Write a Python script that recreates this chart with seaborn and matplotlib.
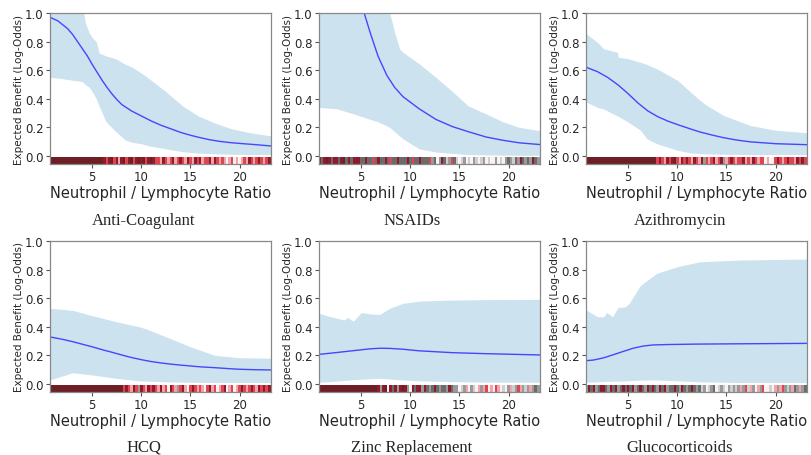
import numpy as np
import pandas as pd
import matplotlib
matplotlib.use("Agg")
import matplotlib.pyplot as plt
import seaborn as sns

sns.set_style("ticks")
plt.rcParams['font.family'] = ['DejaVu Sans']

titles = ["Anti-Coagulant", "NSAIDs", "Azithromycin", "HCQ", "Zinc Replacement", "Glucocorticoids"]

# ---- Mean curves ----
xm_anticoag = [0.7, 1.5, 2.5, 3.0, 3.5, 4, 4.5, 5, 5.5, 6, 6.5, 7, 7.5, 8, 9, 10, 11, 12, 13, 14, 15, 16, 17, 18, 19, 20, 21.5, 23.2]
mean_anticoag = [0.97, 0.945, 0.89, 0.85, 0.80, 0.75, 0.70, 0.64, 0.585, 0.53, 0.48, 0.435, 0.395, 0.36, 0.315, 0.28, 0.245, 0.215, 0.19, 0.165, 0.145, 0.128, 0.113, 0.102, 0.094, 0.088, 0.08, 0.07]

xm_nsaid = [0.7, 2.5, 4.2, 5.3, 5.9, 6.7, 7.6, 8.4, 9.25, 10.9, 12.6, 14.3, 15.9, 17.7, 19.4, 21.1, 23.2]
mean_nsaid = [1.9, 1.5, 1.15, 1.0, 0.865, 0.70, 0.565, 0.48, 0.415, 0.33, 0.256, 0.205, 0.17, 0.133, 0.11, 0.092, 0.08]

xm_azithro = [0.74, 1.86, 2.9, 4, 5, 6, 7, 8, 9, 10, 11.3, 12.3, 13.5, 14.7, 16, 17.4, 20, 23.2]
mean_azithro = [0.62, 0.59, 0.55, 0.495, 0.435, 0.37, 0.315, 0.275, 0.245, 0.22, 0.19, 0.168, 0.147, 0.128, 0.112, 0.099, 0.086, 0.079]

xm_hcq = [0.64, 2, 3, 4, 5, 6, 7, 8, 9, 10, 11, 12, 13, 14, 15, 16, 17.5, 19, 20, 21.5, 23.2]
mean_hcq = [0.33, 0.312, 0.296, 0.278, 0.26, 0.24, 0.222, 0.203, 0.185, 0.17, 0.157, 0.147, 0.139, 0.132, 0.126, 0.12, 0.114, 0.107, 0.103, 0.1, 0.098]

xm_zinc = [0.7, 2.5, 4.2, 5.9, 6.9, 7.9, 9.25, 10.9, 14.3, 17.7, 23.2]
mean_zinc = [0.207, 0.22, 0.233, 0.246, 0.25, 0.249, 0.243, 0.232, 0.219, 0.212, 0.203]

xm_gluco = [0.74, 1.5, 2.5, 3.5, 4.5, 5.5, 6.5, 7.5, 9, 12, 16, 23.2]
mean_gluco = [0.163, 0.168, 0.183, 0.205, 0.228, 0.25, 0.265, 0.273, 0.276, 0.279, 0.281, 0.284]

# ---- Uncertainty bands (x grid, lower, upper) ----
xb_anticoag = [0.7, 1.5, 2.5, 3.5, 4.0, 4.3, 4.7, 5.1, 5.4, 5.7, 6.4, 7.4, 8.4, 9.1, 10, 10.8, 12.5, 14.2, 15.8, 17.5, 19.2, 20.9, 23.2]
lo_anticoag = [0.55, 0.545, 0.535, 0.525, 0.52, 0.50, 0.48, 0.44, 0.40, 0.35, 0.24, 0.17, 0.11, 0.095, 0.086, 0.07, 0.05, 0.03, 0.02, 0.015, 0.012, 0.01, 0.01]
hi_anticoag = [1.25, 1.2, 1.15, 1.1, 1.05, 0.93, 0.86, 0.82, 0.80, 0.72, 0.70, 0.68, 0.64, 0.62, 0.58, 0.54, 0.45, 0.35, 0.28, 0.23, 0.19, 0.165, 0.14]

xb_nsaid = [0.7, 2.5, 4.2, 5.3, 5.9, 6.7, 7.6, 7.9, 8.4, 8.9, 9.25, 10.9, 12.6, 14.3, 15.9, 17.7, 19.4, 21.1, 22.9, 23.2]
lo_nsaid = [0.34, 0.33, 0.295, 0.27, 0.256, 0.24, 0.21, 0.20, 0.17, 0.14, 0.12, 0.05, 0.028, 0.018, 0.01, 0.008, 0.006, 0.005, 0.005, 0.005]
hi_nsaid = [2.5, 2.3, 2.0, 1.6, 1.45, 1.3, 1.1, 1.0, 0.865, 0.75, 0.725, 0.645, 0.55, 0.45, 0.35, 0.295, 0.24, 0.20, 0.18, 0.178]

xb_azithro = [0.74, 1.86, 2.5, 3.9, 4.0, 5.0, 6.25, 6.9, 7.9, 10, 11.3, 12.3, 13, 14.7, 17.4, 20, 23.2]
lo_azithro = [0.377, 0.34, 0.328, 0.28, 0.277, 0.237, 0.18, 0.12, 0.086, 0.04, 0.022, 0.016, 0.014, 0.012, 0.01, 0.01, 0.01]
hi_azithro = [0.855, 0.795, 0.75, 0.725, 0.69, 0.68, 0.655, 0.64, 0.61, 0.53, 0.45, 0.39, 0.353, 0.284, 0.214, 0.18, 0.163]

xb_hcq = [0.64, 2.3, 3.0, 5.0, 7.4, 9.8, 10.5, 12.5, 15, 17.5, 20, 23.2]
lo_hcq = [0.028, 0.063, 0.079, 0.063, 0.04, 0.022, 0.02, 0.015, 0.012, 0.01, 0.01, 0.01]
hi_hcq = [0.53, 0.52, 0.515, 0.478, 0.436, 0.40, 0.385, 0.33, 0.26, 0.20, 0.184, 0.18]

xb_zinc = [0.7, 1.5, 2.5, 3.3, 3.6, 4.2, 5.0, 5.9, 6.9, 7.9, 9.25, 10.9, 14.3, 17.7, 23.2]
lo_zinc = [0.012, 0.015, 0.02, 0.025, 0.027, 0.03, 0.033, 0.037, 0.04, 0.035, 0.028, 0.022, 0.016, 0.013, 0.012]
hi_zinc = [0.494, 0.478, 0.46, 0.448, 0.466, 0.44, 0.50, 0.49, 0.487, 0.53, 0.564, 0.58, 0.587, 0.59, 0.592]

xb_gluco = [0.74, 1.86, 2.5, 2.8, 3.2, 3.4, 3.95, 4.7, 5.1, 5.6, 6.25, 7.9, 10, 12.3, 16.4, 23.2]
lo_gluco = [0.012, 0.015, 0.017, 0.018, 0.019, 0.02, 0.02, 0.021, 0.023, 0.025, 0.027, 0.028, 0.022, 0.015, 0.01, 0.01]
hi_gluco = [0.517, 0.47, 0.47, 0.50, 0.48, 0.47, 0.534, 0.54, 0.564, 0.62, 0.69, 0.774, 0.82, 0.855, 0.867, 0.874]

# ---- Rug codes: one character per 0.25-wide cell starting at x=0.7 ----
rug_anticoag = ("D" * 22 + "dRdDRdPdDRdDRd" + "DdDRdDdR" + "RPdRPRdPRdRP"
                + "dRPdRdPRRdPdRPR" + "PWPRWPWP" + "RPdRPRdRPRd")
rug_nsaid = ("dKdDdKddKdDKdKdddK" + "KdKKRKdKKdKRKKdKKKdKRKKdKK" + "KRGKWGdKLGRK"
             + "LWLGWLWGLWLG" + "WLWWGWLW" + "GKGLKGdKGKGdKG")
rug_azithro = ("D" * 29 + "RdRPdRdDRPdRdRPd" + "RPdGRPRdPRdGPRdR" + "PRRdPRPdRPRR"
               + "WPWWR" + "dRPRdRRPdRdR")
rug_hcq = ("D" * 30 + "RdRPdRGdRPdRdRPd" + "PRWdRPGRdPWRdRPR" + "PWRdPRWPRdWPRWPR"
           + "dRPRdRPdRdRd")
rug_zinc = ("D" * 24 + "dGdDWdKdGdDdGWdKddGd" + "KGKdKGKKGdKG" + "GWLGPWGLWPG"
            + "PRWPWRPWL" + "WGPLGRPGLGPGKG")
rug_gluco = ("GdKdGKddKGdKdGKdKd" + "KdGKdKGdKdKGdKdGKKdKGdKGKdK" + "GKLGWLGKWLGLWGLG"
             + "LGPGRLPGWPGR" + "WWLWP" + "GPRGLGPKGPGK")

rug_palette = {"D": "#6e1f26", "d": "#8e1b2c", "R": "#e0444f", "P": "#f3a3ab",
               "W": "#fbf2f2", "L": "#cfcfcf", "G": "#9a9a9a", "K": "#6b6b6b"}

panels = [
    (xm_anticoag, mean_anticoag, xb_anticoag, lo_anticoag, hi_anticoag, rug_anticoag),
    (xm_nsaid, mean_nsaid, xb_nsaid, lo_nsaid, hi_nsaid, rug_nsaid),
    (xm_azithro, mean_azithro, xb_azithro, lo_azithro, hi_azithro, rug_azithro),
    (xm_hcq, mean_hcq, xb_hcq, lo_hcq, hi_hcq, rug_hcq),
    (xm_zinc, mean_zinc, xb_zinc, lo_zinc, hi_zinc, rug_zinc),
    (xm_gluco, mean_gluco, xb_gluco, lo_gluco, hi_gluco, rug_gluco),
]

W, H = 811, 456
fig = plt.figure(figsize=(W / 100, H / 100), dpi=100)

col_left = [50, 319, 586]
ax_w = 221
row_top = [14, 242]
ax_h = 151
title_x = [144, 412, 680]
title_y = [221, 448]

for i, (xm, ms, xb, los, his, rug) in enumerate(panels):
    r, c = divmod(i, 3)
    ax = fig.add_axes([col_left[c] / W, 1 - (row_top[r] + ax_h) / H, ax_w / W, ax_h / H])
    ax.fill_between(xb, los, his, color="#cde2ef", linewidth=0)
    df = pd.DataFrame({"x": xm, "y": ms})
    sns.lineplot(data=df, x="x", y="y", ax=ax, color="#4646ff", linewidth=1.0)
    rug_df = pd.DataFrame({"x": 0.825 + 0.25 * np.arange(len(rug)), "code": list(rug)})
    sns.rugplot(data=rug_df, x="x", hue="code", palette=rug_palette, ax=ax,
                height=0.048, linewidth=2.3, legend=False, expand_margins=False,
                antialiased=False)
    ax.set_xlim(0.7, 23.2)
    ax.set_ylim(-0.056, 1.0)
    ax.set_xticks([5, 10, 15, 20])
    ax.set_yticks([0.0, 0.2, 0.4, 0.6, 0.8, 1.0])
    ax.set_yticklabels(["0.0", "0.2", "0.4", "0.6", "0.8", "1.0"])
    ax.tick_params(labelsize=8.5, length=3, width=0.8, color="#555555", pad=1.5)
    for s in ax.spines.values():
        s.set_visible(True)
        s.set_color("#888888")
        s.set_linewidth(0.9)
    ax.set_xlabel("Neutrophil / Lymphocyte Ratio", fontsize=10.5, labelpad=1)
    ax.set_ylabel("Expected Benefit (Log-Odds)", fontsize=7.5, labelpad=1)
    fig.text(title_x[c] / W, 1 - title_y[r] / H, titles[i], ha="center", va="center",
             fontsize=12, family=["Liberation Serif", "DejaVu Serif"])

fig.savefig("out.png", dpi=100)
